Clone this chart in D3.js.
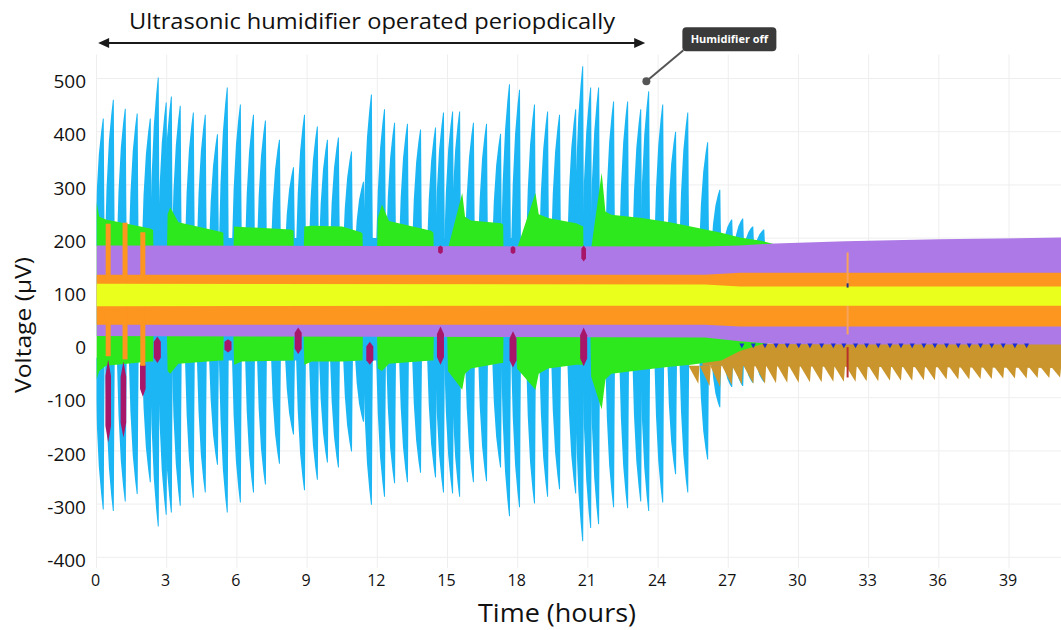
<!DOCTYPE html>
<html>
<head>
<meta charset="utf-8">
<script src="https://cdn.jsdelivr.net/npm/d3@7"></script>
<style>
  body { margin: 0; background: #fff; }
  svg { display: block; font-family: "Open Sans", sans-serif; }
</style>
</head>
<body>
<svg id="chart" width="1061" height="630"></svg>
<script>
// ticks
var xTicks = [0, 3, 6, 9, 12, 15, 18, 21, 24, 27, 30, 33, 36, 39];
var yTicks = [-400, -300, -200, -100, 0, 100, 200, 300, 400, 500];

// humidifier bursts (blue), peak times in hours, upper / lower peaks in uV
var burstT = [0.30,0.73,1.24,1.75,2.31,2.65,2.99,3.21,3.59,4.15,4.66,5.18,5.60,6.16,6.72,7.23,7.83,8.43,8.90,9.45,
  9.88,10.35,10.91,11.42,11.76,12.32,12.75,13.30,13.86,14.50,14.84,15.23,15.53,16.12,16.68,17.28,17.66,18.09,18.73,19.29,
  19.80,20.49,20.79,21.13,21.47,22.11,22.71,23.27,23.61,24.21,24.76,25.28,26.13,26.65,27.16,27.63,28.06,28.53];
var burstHi = [425,460,443,434,425,502,455,466,449,436,432,395,483,451,432,421,385,333,432,410,
  385,389,363,306,470,442,417,415,404,408,436,438,438,417,415,396,489,479,451,438,
  432,442,523,483,483,457,457,442,476,451,400,436,380,291,235,237,222,216];
var burstLo = [-310,-313,-295,-281,-259,-342,-320,-316,-303,-288,-278,-226,-316,-297,-278,-263,-224,-169,-274,-254,
  -222,-231,-201,-145,-301,-286,-261,-259,-241,-250,-278,-280,-286,-259,-257,-231,-323,-306,-299,-286,
  -272,-280,-370,-345,-338,-306,-308,-295,-313,-297,-244,-278,-216,-118,-80,-78,-72,-70];
var burstBaseHi = 185, burstBaseLo = -25;
var blueBandT = [0.15, 26.3], blueBandHi = [200, 200], blueBandLo = [-30, -30];

// green channel envelope
var greenT = [0.0,0.12,0.4,2.3,2.42,2.44,3.0,3.04,3.15,3.5,5.3,5.42,5.44,5.84,5.88,6.2,8.3,8.42,8.44,8.84,
  8.88,9.2,10.5,11.3,11.37,11.39,11.98,12.02,12.2,12.5,14.3,14.4,14.42,14.98,15.02,15.63,15.75,16.0,17.3,17.38,
  17.4,17.93,17.97,18.76,18.9,19.3,20.5,20.8,20.82,21.1,21.14,21.59,21.75,22.0,23.3,24.5,25.4,26.7,27.5,28.4,29.2];
var greenHi = [268,240,235,218,215,150,150,245,258,230,212,210,150,150,222,221,216,214,150,150,
  222,223,222,211,208,150,150,238,263,232,214,210,150,150,180,285,240,233,228,225,
  150,150,180,285,245,238,228,222,150,150,180,323,250,244,238,230,222,210,201,195,186];
var greenLo = [-66,-50,-40,-32,-32,40,40,-50,-55,-36,-30,-30,40,40,-38,-32,-30,-30,40,40,
  -38,-32,-32,-30,-30,40,40,-45,-50,-36,-30,-30,40,40,-50,-85,-55,-45,-35,-35,
  40,40,-45,-85,-55,-45,-38,-38,40,40,-60,-122,-66,-55,-48,-42,-38,-30,-12,0,10];

// purple, orange, yellow channel envelopes
var purpleT = [0, 26, 27.5, 29, 32, 36, 41.22];
var purpleHi = [186, 184, 186, 190, 194, 198, 201];
var purpleLo = [16, 13, 6, 1, 0, 0, 0];
var orangeT = [0, 26, 27.5, 41.22];
var orangeHi = [131, 131, 135, 135];
var orangeLo = [37, 37, 34, 34];
var yellowT = [0, 26, 27.5, 41.22];
var yellowHi = [114, 113, 109, 109];
var yellowLo = [72, 73, 73, 73];

// brown channel after humidifier off
var brownBandT = [25.9, 41.22], brownBandHi = [2, 2], brownBandLo = [-40, -44];
var toothT = [25.72,26.2,26.65,27.15,27.58,28.07,28.57,29.04,29.52,30.01,30.49,30.99,31.49,31.94,32.44,32.91,33.41,
  33.91,34.38,34.86,35.36,35.83,36.33,36.83,37.30,37.78,38.26,38.75,39.25,39.75,40.22,40.72,41.18];
var toothLo = [-74,-78,-80,-76,-75,-74,-74,-73,-72,-72,-71,-71,-70,-70,-70,-69,-69,-68,-68,-68,-67,-67,
  -66,-66,-66,-65,-65,-64,-64,-64,-63,-63,-62];

// magenta transients
var magT = [0.5, 1.15, 1.98, 2.6, 5.62, 8.62, 11.68, 14.7, 17.8, 20.82];
var magHi = [-28, -32, -25, 15, 10, 32, 5, 34, 25, 32];
var magLo = [-184, -175, -98, -35, -15, -18, -38, -38, -43, -41];
var magUpT = [14.7, 17.8, 20.82];
var magUpHi = [186, 185, 186];
var magUpLo = [170, 170, 156];

// early orange transients
var orSpikeT = [0.5, 1.22, 1.98];
var orSpikeHi = [227, 229, 211];
var orSpikeLo = [-22, -28, -40];

// event at 32.1 h
var eventT = 32.1;
var eventOrange = [19, 173];
var eventRed = [-62, -5];

// annotations
var arrowT = [0.07, 23.45];
var arrowLabel = "Ultrasonic humidifier operated periopdically";
var offT = 23.5, offV = 495, offLabel = "Humidifier off";

var svg = d3.select("#chart");
var x = d3.scaleLinear().domain([0, 41.22]).range([96.5, 1061]);
var y = d3.scaleLinear().domain([-400, 500]).range([557.3, 78.5]);

svg.append("defs").append("clipPath").attr("id", "plot")
  .append("rect").attr("x", x(0)).attr("y", 0).attr("width", 1061 - x(0)).attr("height", 630);

// grid
var grid = svg.append("g").attr("stroke", "#eeeeee").attr("stroke-width", 1);
grid.selectAll(".gx").data(xTicks).enter().append("line")
  .attr("x1", function (d) { return x(d); }).attr("x2", function (d) { return x(d); })
  .attr("y1", y(545)).attr("y2", y(-420));
grid.selectAll(".gy").data(yTicks).enter().append("line")
  .attr("x1", x(0)).attr("x2", 1061)
  .attr("y1", function (d) { return y(d); }).attr("y2", function (d) { return y(d); });

var plot = svg.append("g").attr("clip-path", "url(#plot)");

function band(T, hi, lo, colour) {
  var area = d3.area()
    .x(function (d, i) { return x(T[i]); })
    .y0(function (d, i) { return y(lo[i]); })
    .y1(function (d, i) { return y(hi[i]); });
  plot.append("path").attr("d", area(T)).attr("fill", colour);
}

var line = d3.line();
// burst shape: growth on the left, sharp cut-off on the right
function spike(t, base, peak) {
  var h = peak - base;
  return line([[x(t - 0.37), y(base)], [x(t - 0.30), y(base + 0.4 * h)], [x(t - 0.20), y(base + 0.72 * h)],
    [x(t - 0.10), y(base + 0.9 * h)], [x(t - 0.03), y(peak)], [x(t + 0.01), y(peak)],
    [x(t + 0.03), y(base + 0.4 * h)], [x(t + 0.05), y(base)]]) + "Z";
}
function tooth(t, base, tip) {
  return line([[x(t - 0.42), y(base)], [x(t), y(tip)], [x(t + 0.05), y(base)]]) + "Z";
}
function spindle(t, hi, lo, w) {
  var k = 0.2 * (hi - lo);
  return line([[x(t), y(hi)], [x(t + w / 2), y(hi - k)], [x(t + w / 2), y(lo + k)],
    [x(t), y(lo)], [x(t - w / 2), y(lo + k)], [x(t - w / 2), y(hi - k)]]) + "Z";
}

// blue
band(blueBandT, blueBandHi, blueBandLo, "#1cb6f4");
plot.selectAll(".bu").data(burstT).enter().append("path")
  .attr("d", function (d, i) { return spike(d, burstBaseHi, burstHi[i]); })
  .attr("fill", "#1cb6f4");
plot.selectAll(".bl").data(burstT).enter().append("path")
  .attr("d", function (d, i) { return spike(d, burstBaseLo, burstLo[i]); })
  .attr("fill", "#1cb6f4");

// brown
band(brownBandT, brownBandHi, brownBandLo, "#c9952c");
plot.selectAll(".br").data(toothT).enter().append("path")
  .attr("d", function (d, i) { return tooth(d, -40, toothLo[i]); })
  .attr("fill", "#c9952c");

// green, purple
band(greenT, greenHi, greenLo, "#2ee81e");
band(purpleT, purpleHi, purpleLo, "#ad79e6");

// navy marks along the purple floor
plot.selectAll(".nv").data(toothT.filter(function (t) { return t > 27.5 && t < 39.8; })).enter()
  .append("path")
  .attr("d", function (d) {
    return line([[x(d) - 2.5, y(2)], [x(d) + 2.5, y(2)], [x(d), y(-7)]]) + "Z";
  })
  .attr("fill", "#1b2fd6");

// magenta
plot.selectAll(".mg").data(magT).enter().append("path")
  .attr("d", function (d, i) { return spindle(d, magHi[i], magLo[i], i < 3 ? 0.24 : 0.3); })
  .attr("fill", "#a8166a");
plot.selectAll(".mu").data(magUpT).enter().append("path")
  .attr("d", function (d, i) { return spindle(d, magUpHi[i], magUpLo[i], 0.2); })
  .attr("fill", "#a8166a");

// orange
band(orangeT, orangeHi, orangeLo, "#fd961e");
plot.selectAll(".os").data(orSpikeT).enter().append("rect")
  .attr("x", function (d) { return x(d) - 2.5; })
  .attr("width", 5)
  .attr("y", function (d, i) { return y(orSpikeHi[i]); })
  .attr("height", function (d, i) { return y(orSpikeLo[i]) - y(orSpikeHi[i]); })
  .attr("fill", "#fd961e");
plot.append("line")
  .attr("x1", x(eventT)).attr("x2", x(eventT))
  .attr("y1", y(eventOrange[0])).attr("y2", y(eventOrange[1]))
  .attr("stroke", "#f7a35a").attr("stroke-width", 2);

// yellow
band(yellowT, yellowHi, yellowLo, "#eaff1c");

// event marks
plot.append("line")
  .attr("x1", x(eventT)).attr("x2", x(eventT))
  .attr("y1", y(eventRed[0])).attr("y2", y(eventRed[1]))
  .attr("stroke", "#b8302a").attr("stroke-width", 2);
plot.append("line").attr("x1", x(eventT)).attr("x2", x(eventT))
  .attr("y1", y(115)).attr("y2", y(107)).attr("stroke", "#26307a").attr("stroke-width", 2);

// axes labels
svg.append("g").selectAll("text").data(xTicks).enter().append("text")
  .attr("x", function (d) { return x(d) - 1; })
  .attr("y", 586)
  .attr("text-anchor", "middle")
  .attr("font-size", "16px")
  .attr("fill", "#111")
  .text(function (d) { return d; });
svg.append("g").selectAll("text").data(yTicks).enter().append("text")
  .attr("x", 86)
  .attr("y", function (d) { return y(d) + 3; })
  .attr("dy", "0.35em")
  .attr("text-anchor", "end")
  .attr("font-size", "19px")
  .attr("fill", "#111")
  .text(function (d) { return d; });

svg.append("text")
  .attr("transform", "translate(31,325) rotate(-90)")
  .attr("text-anchor", "middle")
  .attr("font-size", "22px")
  .attr("fill", "#111")
  .attr("textLength", 136).attr("lengthAdjust", "spacingAndGlyphs")
  .text("Voltage (\u03BCV)");
svg.append("text")
  .attr("x", 557).attr("y", 622)
  .attr("text-anchor", "middle")
  .attr("font-size", "25px")
  .attr("fill", "#111")
  .attr("textLength", 158).attr("lengthAdjust", "spacingAndGlyphs")
  .text("Time (hours)");

// humidifier period arrow
var ay = 43;
var ax0 = x(arrowT[0]), ax1 = x(arrowT[1]);
var ann = svg.append("g");
ann.append("line").attr("x1", ax0 + 6).attr("x2", ax1 - 6).attr("y1", ay).attr("y2", ay)
  .attr("stroke", "#1a1a1a").attr("stroke-width", 2);
ann.append("path").attr("d", line([[ax0, ay], [ax0 + 11, ay - 5], [ax0 + 11, ay + 5]]) + "Z").attr("fill", "#1a1a1a");
ann.append("path").attr("d", line([[ax1, ay], [ax1 - 11, ay - 5], [ax1 - 11, ay + 5]]) + "Z").attr("fill", "#1a1a1a");
ann.append("text")
  .attr("x", 129).attr("y", 29)
  .attr("font-size", "22px")
  .attr("fill", "#111")
  .attr("textLength", 486).attr("lengthAdjust", "spacingAndGlyphs")
  .text(arrowLabel);

// humidifier off callout
var px = x(offT), py = y(offV);
var tip = svg.append("g");
tip.append("line").attr("x1", px).attr("y1", py).attr("x2", px + 37).attr("y2", py - 31)
  .attr("stroke", "#555").attr("stroke-width", 2);
tip.append("circle").attr("cx", px).attr("cy", py).attr("r", 4).attr("fill", "#555");
tip.append("rect").attr("x", px + 36).attr("y", py - 54).attr("width", 94).attr("height", 24)
  .attr("rx", 4).attr("fill", "#3a3a3a");
tip.append("text").attr("x", px + 83).attr("y", py - 38)
  .attr("text-anchor", "middle")
  .attr("font-size", "11px").attr("font-weight", "bold")
  .attr("fill", "#fff")
  .text(offLabel);
</script>
</body>
</html>
